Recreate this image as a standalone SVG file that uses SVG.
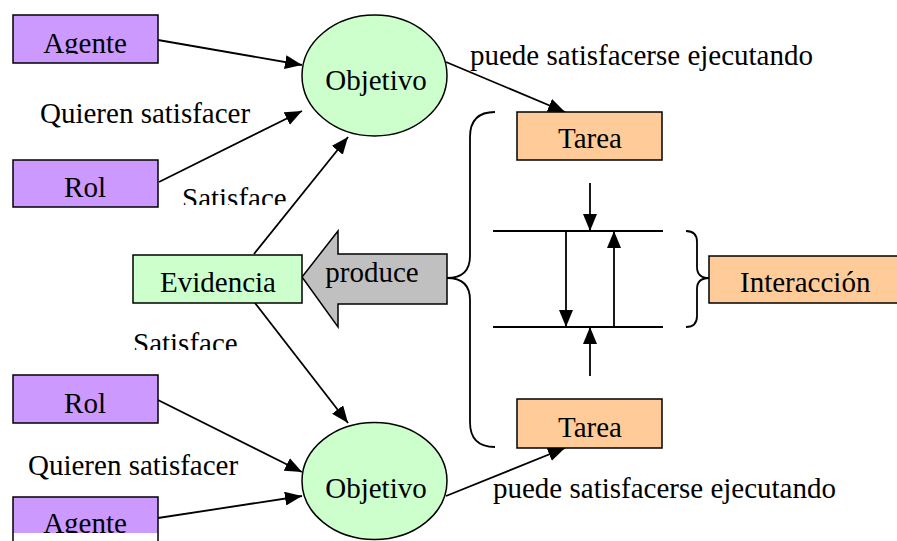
<svg xmlns="http://www.w3.org/2000/svg" width="897" height="541" viewBox="0 0 897 541">
  <style>
    text { font-family: "Liberation Serif", "DejaVu Serif", serif; font-size: 29px; fill: #000; }
    .mid { text-anchor: middle; }
    .box { stroke: #000; stroke-width: 1.5; }
    .agent { fill: #cc99ff; }
    .goal { fill: #ccffcc; }
    .task { fill: #ffcc99; }
    .line { stroke: #000; stroke-width: 1.8; fill: none; }
    .arrow { stroke: #000; stroke-width: 1.8; fill: none; marker-end: url(#head); }
    .brace { stroke: #000; stroke-width: 1.8; fill: none; }
  </style>
  <defs>
    <marker id="head" viewBox="0 0 17 14" refX="17" refY="7" markerWidth="17" markerHeight="14" markerUnits="userSpaceOnUse" orient="auto">
      <path d="M0,0 L17,7 L0,14 Z" fill="#000"/>
    </marker>
    <clipPath id="clipAgenteTop"><rect x="0" y="0" width="200" height="54"/></clipPath>
    <clipPath id="clipSatisfaceTop"><rect x="170" y="180" width="130" height="25"/></clipPath>
    <clipPath id="clipSatisfaceBottom"><rect x="120" y="320" width="130" height="30"/></clipPath>
    <clipPath id="clipAgenteBottom"><rect x="0" y="490" width="200" height="43"/></clipPath>
  </defs>

  <rect width="897" height="541" fill="#fff"/>

  <!-- connectors -->
  <g id="connectors">
    <line class="arrow" x1="158" y1="40" x2="302" y2="65"/>
    <line class="arrow" x1="159" y1="182" x2="302" y2="111"/>
    <line class="arrow" x1="254" y1="254" x2="348" y2="137"/>
    <line class="arrow" x1="446" y1="62" x2="565" y2="112"/>
    <line class="arrow" x1="255" y1="303" x2="348" y2="423"/>
    <line class="arrow" x1="158" y1="400" x2="302" y2="472"/>
    <line class="arrow" x1="158" y1="518" x2="302" y2="496"/>
    <line class="arrow" x1="446" y1="496" x2="565" y2="448"/>

    <!-- interaction between tasks -->
    <line class="line" x1="493" y1="231" x2="663" y2="231"/>
    <line class="line" x1="493" y1="327" x2="663" y2="327"/>
    <line class="arrow" x1="590" y1="183" x2="590" y2="231"/>
    <line class="arrow" x1="590" y1="376" x2="590" y2="327"/>
    <line class="arrow" x1="566" y1="231" x2="566" y2="327"/>
    <line class="arrow" x1="614" y1="327" x2="614" y2="231"/>

    <!-- braces -->
    <path class="brace" d="M495,112 Q470,112 470,137 L470,256 Q470,278 447,278 Q470,278 470,300 L470,422 Q470,447 495,447"/>
    <path class="brace" d="M686,231 Q697,231 697,242 L697,267 Q697,278 709,278 Q697,278 697,289 L697,316 Q697,327 686,327"/>

    <!-- block arrow "produce" -->
    <path d="M447,254 L338,254 L338,231 L302,277 L338,327 L338,304 L447,304 Z" fill="#c0c0c0" stroke="#000" stroke-width="1.5"/>
    <text x="372" y="282" class="mid">produce</text>

    <!-- labels -->
    <text x="40" y="123">Quieren satisfacer</text>
    <text x="182" y="208" clip-path="url(#clipSatisfaceTop)">Satisface</text>
    <text x="470" y="65">puede satisfacerse ejecutando</text>
    <text x="133" y="353" clip-path="url(#clipSatisfaceBottom)">Satisface</text>
    <text x="28" y="475">Quieren satisfacer</text>
    <text x="493" y="498">puede satisfacerse ejecutando</text>
  </g>

  <g id="agente-top">
    <rect class="box agent" x="13" y="15" width="145" height="48"/>
    <text x="85" y="53" class="mid" clip-path="url(#clipAgenteTop)">Agente</text>
  </g>

  <g id="rol-top">
    <rect class="box agent" x="13" y="160" width="145" height="47"/>
    <text x="85" y="197" class="mid">Rol</text>
  </g>

  <g id="objetivo-top">
    <ellipse class="box goal" cx="374.5" cy="75.5" rx="72.5" ry="60.5"/>
    <text x="376" y="90" class="mid">Objetivo</text>
  </g>

  <g id="tarea-top">
    <rect class="box task" x="517" y="112" width="145" height="48"/>
    <text x="590" y="148" class="mid">Tarea</text>
  </g>

  <g id="evidencia">
    <rect class="box goal" x="133" y="255" width="169" height="48"/>
    <text x="218" y="292" class="mid">Evidencia</text>
  </g>

  <g id="interaccion">
    <rect class="box task" x="709" y="256" width="200" height="47"/>
    <text x="740" y="292">Interacción</text>
  </g>

  <g id="rol-bottom">
    <rect class="box agent" x="13" y="375" width="145" height="48"/>
    <text x="85" y="413" class="mid">Rol</text>
  </g>

  <g id="tarea-bottom">
    <rect class="box task" x="517" y="399" width="145" height="49"/>
    <text x="590" y="437" class="mid">Tarea</text>
  </g>

  <g id="objetivo-bottom">
    <ellipse class="box goal" cx="374.5" cy="481" rx="72.5" ry="58.5"/>
    <text x="376" y="498" class="mid">Objetivo</text>
  </g>

  <g id="agente-bottom">
    <rect class="agent" x="13" y="497" width="145" height="36"/>
    <path class="box" d="M13,541 L13,497 L158,497 L158,541" fill="none"/>
    <text x="85" y="533" class="mid" clip-path="url(#clipAgenteBottom)">Agente</text>
  </g>
</svg>
